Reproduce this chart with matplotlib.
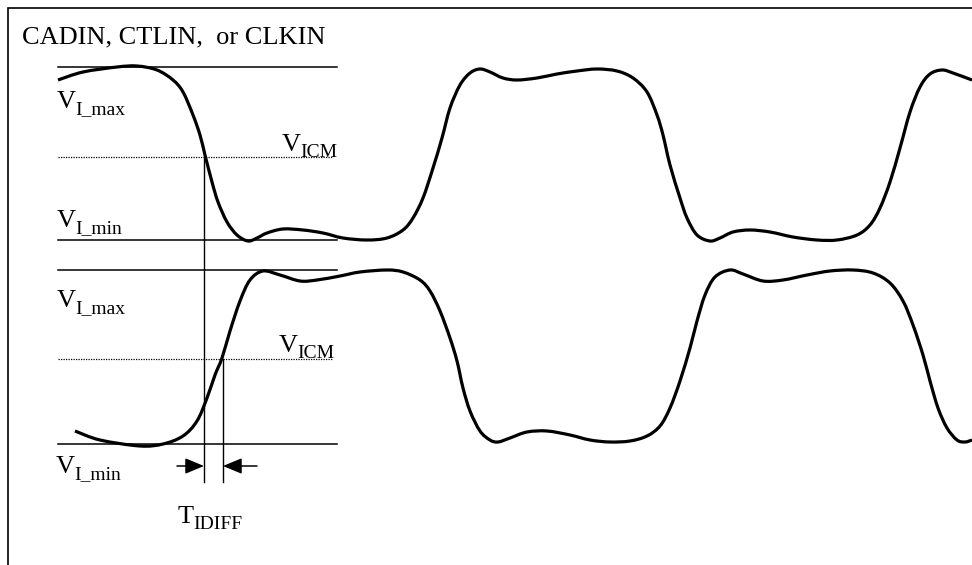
import matplotlib
matplotlib.use("Agg")
import matplotlib.pyplot as plt
from matplotlib.patches import FancyArrowPatch, PathPatch
from matplotlib.path import Path
from matplotlib.transforms import offset_copy

plt.rcParams['font.family'] = ['Liberation Serif', 'DejaVu Serif']

# traced waveform of the upper signal (pixel coords, y grows downward)
top_x = [58, 83, 117, 137, 157, 173, 183, 193, 200, 205, 212, 218, 227, 237, 248, 257,
         267, 283, 303, 323, 343, 367, 387, 403, 413, 423, 433, 442, 450, 460, 470, 480,
         490, 503, 517, 537, 557, 577, 597, 617, 633, 647, 657, 663, 670, 680, 687, 697,
         710, 720, 733, 750, 770, 793, 817, 837, 857, 870, 880, 890, 900, 910, 920, 930,
         942, 953, 972]
top_y = [80, 72, 67, 66, 70, 80, 92, 115, 135, 155, 182, 202, 222, 235, 241, 238,
         233, 229, 230, 233, 238, 240, 238, 230, 218, 198, 168, 138, 108, 85, 73, 69,
         72, 78, 80, 78, 74, 71, 69, 71, 78, 92, 115, 135, 165, 198, 218, 235,
         241, 238, 232, 230, 232, 237, 240, 240, 235, 225, 208, 182, 148, 112, 87, 74,
         70, 73, 80]

# traced waveform of the lower signal
bot_x = [75, 100, 140, 163, 183, 197, 207, 215, 222, 230, 240, 250, 263, 280, 300, 317,
         340, 360, 387, 403, 420, 430, 440, 450, 457, 463, 470, 480, 490, 498, 510, 527,
         547, 570, 590, 610, 630, 647, 660, 670, 680, 690, 697, 705, 715, 730, 743, 763,
         783, 807, 830, 853, 873, 890, 903, 913, 923, 930, 938, 947, 957, 965, 972]
bot_y = [431, 440, 446, 444, 436, 421, 398, 375, 358, 331, 301, 280, 271, 275, 281, 280,
         276, 272, 270, 272, 280, 291, 311, 338, 361, 388, 411, 431, 440, 442, 438, 432,
         431, 435, 440, 442, 441, 436, 426, 408, 381, 348, 321, 295, 277, 270, 274, 281,
         280, 275, 271, 270, 273, 283, 301, 325, 355, 381, 408, 428, 440, 442, 440]

# reference levels: (vmax, vicm, vmin) for each signal
top_levels = [67, 157, 240]
bot_levels = [270, 359, 444]


def smooth_path(xs, ys):
    # catmull-rom through the traced points, drawn as cubic beziers
    pts = list(zip(xs, ys))
    verts = [pts[0]]
    codes = [Path.MOVETO]
    for i in range(len(pts) - 1):
        p0 = pts[i - 1] if i > 0 else pts[i]
        p1 = pts[i]
        p2 = pts[i + 1]
        p3 = pts[i + 2] if i + 2 < len(pts) else pts[i + 1]
        c1 = (p1[0] + (p2[0] - p0[0]) / 6, p1[1] + (p2[1] - p0[1]) / 6)
        c2 = (p2[0] - (p3[0] - p1[0]) / 6, p2[1] - (p3[1] - p1[1]) / 6)
        verts += [c1, c2, p2]
        codes += [Path.CURVE4] * 3
    return Path(verts, codes)


fig = plt.figure(figsize=(9.72, 5.65), dpi=100)
ax = fig.add_axes([0, 0, 1, 1])
ax.set_xlim(0, 972)
ax.set_ylim(565, 0)
ax.axis('off')

# frame (runs off the right and bottom edges)
ax.plot([8, 8, 980], [575, 8, 8], color='black', lw=1.2, solid_joinstyle='miter')

for lv in (top_levels, bot_levels):
    ax.plot([58, 337], [lv[0], lv[0]], color='black', lw=1.1)
    ax.plot([58, 337], [lv[2], lv[2]], color='black', lw=1.1)
    ax.plot([58, 333], [lv[1], lv[1]], color='black', lw=0.9, linestyle=(0, (1, 1)))

for xs, ys in ((top_x, top_y), (bot_x, bot_y)):
    ax.add_patch(PathPatch(smooth_path(xs, ys), facecolor='none', edgecolor='black',
                           lw=2.3, joinstyle='round', capstyle='butt'))

# crossing markers
ax.plot([204, 204], [top_levels[1], 482], color='black', lw=1.0)
ax.plot([223, 223], [bot_levels[1], 482], color='black', lw=1.0)

for x0, x1 in ((177, 204), (257, 223)):
    ax.add_patch(FancyArrowPatch((x0, 466), (x1, 466),
                                 arrowstyle='-|>,head_length=0.72,head_width=0.3',
                                 mutation_scale=16, color='black', lw=1.1,
                                 shrinkA=0, shrinkB=0))

fs = 19
sub_fs = 14
ax.text(22, 43, 'CADIN, CTLIN,  or CLKIN', fontsize=fs, va='baseline')

labels = [
    (57, 108, 'V', 'I_max'),
    (282, 151, 'V', 'ICM'),
    (57, 227, 'V', 'I_min'),
    (57, 307, 'V', 'I_max'),
    (279, 352, 'V', 'ICM'),
    (56, 473, 'V', 'I_min'),
    (178, 523, 'T', 'IDIFF'),
]
fig.canvas.draw()
renderer = fig.canvas.get_renderer()
for x, y, main, sub in labels:
    t = ax.text(x, y, main, fontsize=fs, va='baseline')
    w = t.get_window_extent(renderer).width
    tr = offset_copy(ax.transData, fig=fig, x=w * 72 / fig.dpi - 0.5, y=-4.5, units='points')
    ax.text(x, y, sub, fontsize=sub_fs, va='baseline', transform=tr)

fig.savefig('out.png', dpi=100)
